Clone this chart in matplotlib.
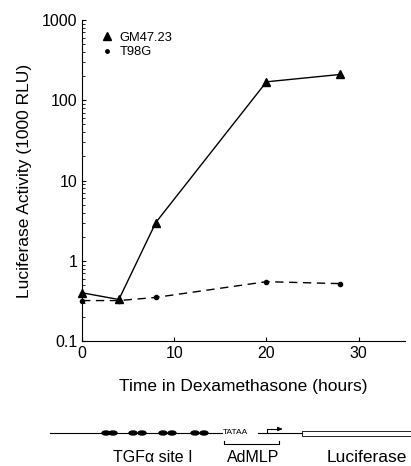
import matplotlib
matplotlib.use('Agg')
import matplotlib.pyplot as plt
from matplotlib.lines import Line2D
from matplotlib.patches import Ellipse, Rectangle

plt.rcParams['font.family'] = ['Liberation Sans', 'DejaVu Sans']

hours = [0, 4, 8, 20, 28]
gm47 = [0.40, 0.33, 3.0, 170, 210]
t98g = [0.32, 0.32, 0.35, 0.55, 0.52]
x_ticks = [0, 10, 20, 30]
y_ticks = [0.1, 1, 10, 100, 1000]
y_ticklabels = ['0.1', '1', '10', '100', '1000']

fig = plt.figure(figsize=(4.11, 4.66), dpi=100)
ax = fig.add_axes([0.1995, 0.268, 0.7855, 0.689])

ax.plot(hours, gm47, '-', color='black', lw=1, marker='^', ms=6, clip_on=False)
ax.plot(hours, t98g, '--', color='black', lw=1, marker='o', ms=3, dashes=(6, 4), clip_on=False)

ax.set_yscale('log')
ax.set_ylim(0.1, 1000)
ax.set_xlim(0, 35)
ax.set_xticks(x_ticks)
ax.set_yticks(y_ticks)
ax.set_yticklabels(y_ticklabels)
ax.tick_params(direction='in', labelsize=11.5, length=3, width=0.8)
ax.tick_params(which='minor', direction='in', length=2, width=0.6)
ax.tick_params(axis='x', which='minor', length=0)
for s in ['top', 'right']:
    ax.spines[s].set_visible(False)
ax.set_xlabel('Time in Dexamethasone (hours)', fontsize=12.5, labelpad=13)
ax.set_ylabel('Luciferase Activity (1000 RLU)', fontsize=12.5, labelpad=7)

handles = [Line2D([], [], color='black', marker='^', ls='none', ms=6),
           Line2D([], [], color='black', marker='o', ls='none', ms=2.5)]
ax.legend(handles, ['GM47.23', 'T98G'], loc='upper left', bbox_to_anchor=(0.02, 1.0),
          frameon=False, fontsize=9.3, handlelength=1, handletextpad=0.5, labelspacing=0.2)

# construct diagram below the chart
d = fig.add_axes([0, 0, 1, 1])
d.set_xlim(0, 411)
d.set_ylim(466, 0)
d.axis('off')
yl = 433
d.plot([50, 222], [yl, yl], color='black', lw=0.8)
for cx in [106, 113, 133, 142, 163, 172, 195, 204]:
    d.add_patch(Ellipse((cx, yl), 8, 4, color='black'))
d.text(223, yl, 'TATAA', fontsize=6, va='center', ha='left')
d.plot([258, 267, 267, 280], [yl, yl, yl - 4, yl - 4], color='black', lw=0.8)
d.plot([267, 302], [yl, yl], color='black', lw=0.8)
d.annotate('', xy=(285, yl - 4), xytext=(278, yl - 4),
           arrowprops=dict(arrowstyle='-|>', color='black', lw=0.8, mutation_scale=6))
d.add_patch(Rectangle((302, yl - 2.5), 120, 5, fill=False, ec='black', lw=0.6))
d.plot([224, 224, 279, 279], [441, 444, 444, 441], color='black', lw=0.8)
d.text(153, 458, 'TGF\u03b1 site I', fontsize=11.5, ha='center', va='center')
d.text(253, 458, 'AdMLP', fontsize=11.5, ha='center', va='center')
d.text(367, 458, 'Luciferase', fontsize=12.5, ha='center', va='center')

fig.savefig('out.png', dpi=100)
